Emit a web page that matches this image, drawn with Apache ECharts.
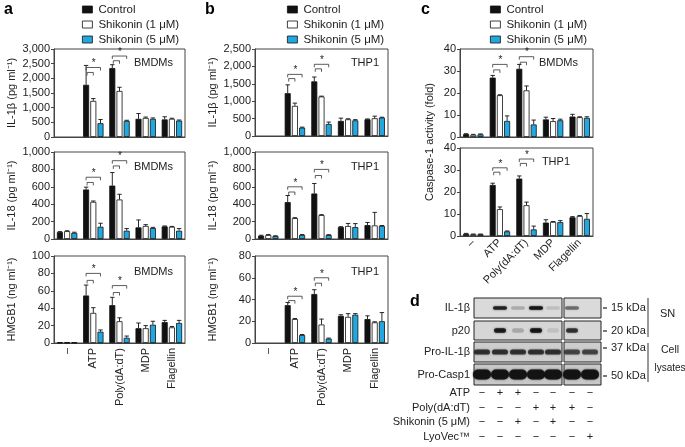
<!DOCTYPE html>
<html>
<head>
<meta charset="utf-8">
<script src="https://cdn.jsdelivr.net/npm/echarts@6.0.0/dist/echarts.min.js"></script>
<style>
  html, body { margin: 0; padding: 0; background: #fff; }
  #chart { width: 685px; height: 447px; }
</style>
</head>
<body>
<div id="chart"></div>
<script>
// ---- data ----
const categories = ['–', 'ATP', 'Poly(dA:dT)', 'MDP', 'Flagellin'];
const seriesNames = ['Control', 'Shikonin (1 μM)', 'Shikonin (5 μM)'];

// rows: Control, Shikonin 1 uM, Shikonin 5 uM
const aIL1bMean = [[null, 1780, 2350, 620, 600], [null, 1230, 1570, 650, 620], [null, 470, 550, 620, 560]];
const aIL1bErr = [[0, 660, 115, 180, 90], [0, 80, 125, 30, 20], [0, 125, 20, 30, 20]];
const aIL18Mean = [[80, 569, 614, 134, 145], [90, 427, 454, 150, 140], [70, 141, 95, 126, 95]];
const aIL18Err = [[5, 27, 150, 85, 5], [5, 10, 60, 15, 5], [8, 40, 25, 8, 25]];
const aHmgbMean = [[0.5, 54.6, 43.5, 17, 24], [0.5, 34.6, 25, 17, 18], [0.5, 13, 6, 21, 23]];
const aHmgbErr = [[0, 12, 9, 6, 2], [0, 6, 4, 3, 1], [0, 2, 2, 4, 3]];

const bIL1bMean = [[null, 1230, 1570, 433, 480], [null, 865, 1135, 480, 510], [null, 240, 346, 450, 530]];
const bIL1bErr = [[0, 240, 125, 80, 10], [0, 80, 10, 15, 60], [0, 15, 55, 20, 10]];
const bIL18Mean = [[38, 424, 523, 137, 160], [46, 240, 275, 149, 156], [34, 46, 45, 137, 150]];
const bIL18Err = [[5, 76, 115, 5, 30], [5, 5, 5, 30, 150], [3, 5, 5, 40, 5]];
const bHmgbMean = [[null, 34.8, 45, 25, 22], [null, 22, 17, 24, 19], [null, 7.3, 4, 26, 20]];
const bHmgbErr = [[0, 2.5, 4, 1, 3], [0, 0.5, 5, 3, 0.5], [0, 0.5, 0.5, 1, 8]];

const cBmdmMean = [[1.3, 27, 31, 8, 9.3], [1.0, 19, 21.2, 7.2, 9], [1.2, 7.3, 5.7, 7.6, 8.7]];
const cBmdmErr = [[0.2, 1, 2, 1, 1], [0.2, 0.2, 2, 1.2, 0.2], [0.2, 2.3, 2, 0.5, 0.5]];
const cThpMean = [[1.0, 23.2, 26.1, 6.1, 8.5], [0.8, 12.2, 14, 6.4, 9.1], [0.8, 2.1, 3, 6.3, 7.8]];
const cThpErr = [[0.2, 0.8, 1.2, 1.3, 0.3], [0.1, 1, 1.4, 0.2, 0.2], [0.1, 0.2, 1.5, 0.7, 2.4]];

// significance brackets: [category index, inner line, outer line]
const aIL1bSig = [[1, 2200, 2370], [2, 2600, 2760]];
const aIL18Sig = [[1, 650, 710], [2, 840, 900]];
const aHmgbSig = [[1, 72, 80], [2, 58, 66]];
const bIL1bSig = [[1, 1650, 1770], [2, 1930, 2060]];
const bIL18Sig = [[1, 540, 600], [2, 730, 800]];
const bHmgbSig = [[1, 39, 43], [2, 55, 60]];
const cBmdmSig = [[1, 30.5, 33], [2, 34, 36.5]];
const cThpSig = [[1, 29, 31], [2, 33, 35]];

// western blot (panel d)
const blotRows = ['IL-1β', 'p20', 'Pro-IL-1β', 'Pro-Casp1'];
const blotMarkers = ['15 kDa', '20 kDa', '37 kDa', '50 kDa'];
const bandLevels = [
  [0, 0.8, 0.2, 0.9, 0.12, 0.45, 0],
  [0, 0.85, 0.2, 0.9, 0.1, 0.7, 0],
  [0.7, 0.7, 0.7, 0.7, 0.7, 0.6, 0.6],
  [0.9, 0.9, 0.9, 0.9, 0.9, 0.9, 0.9]
];
const treatRows = ['ATP', 'Poly(dA:dT)', 'Shikonin (5 μM)', 'LyoVec™'];
const treatSigns = [
  ['−', '+', '+', '−', '−', '−', '−'],
  ['−', '−', '−', '+', '+', '+', '−'],
  ['−', '−', '+', '−', '+', '−', '−'],
  ['−', '−', '−', '−', '−', '−', '+']
];

// ---- styling ----
const FONT = 'Liberation Sans, Arial, sans-serif';
const BAR_W = 6, BAR_GAP = 1.2;
const colors = ['#111111', '#ffffff', '#22a7df'];
const TXT = '#222';

const grids = [], xAxes = [], yAxes = [], series = [];

function errRender(k) {
  return function (params, api) {
    const m = api.value(1);
    if (m == null || isNaN(m)) return;
    const base = api.coord([api.value(0), m]);
    const top = api.coord([api.value(0), m + api.value(2)]);
    const cx = base[0] + (k - 1) * (BAR_W + BAR_GAP);
    const st = { stroke: '#111', lineWidth: 0.9 };
    return {
      type: 'group', children: [
        { type: 'line', shape: { x1: cx, y1: base[1], x2: cx, y2: top[1] }, style: st },
        { type: 'line', shape: { x1: cx - 2.2, y1: top[1], x2: cx + 2.2, y2: top[1] }, style: st }
      ]
    };
  };
}

function sigRender(params, api) {
  const c = api.value(0);
  const p0 = api.coord([c, api.value(1)]);
  const p1 = api.coord([c, api.value(2)]);
  const step = BAR_W + BAR_GAP;
  const xL = p0[0] - step + 1, xM = p0[0], xR = p0[0] + step;
  const st = { stroke: '#333', lineWidth: 0.8, fill: null };
  return {
    type: 'group', children: [
      { type: 'polyline', shape: { points: [[xL, p0[1] + 3], [xL, p0[1]], [xM, p0[1]], [xM, p0[1] + 3]] }, style: st },
      { type: 'polyline', shape: { points: [[xL - 1, p1[1] + 3], [xL - 1, p1[1]], [xR, p1[1]], [xR, p1[1] + 3]] }, style: st },
      { type: 'text', x: (xL + xR) / 2, y: p1[1] + 1, style: { text: '*', fill: '#222', font: '10px ' + FONT, align: 'center', verticalAlign: 'bottom' } }
    ]
  };
}

function addPanel(box, yMax, yStep, yName, means, errs, sig, xLabel) {
  const i = grids.length;
  grids.push({ left: box[0], top: box[1], width: box[2], height: box[3], show: true, borderColor: '#444', borderWidth: 1, containLabel: false });
  xAxes.push({
    type: 'category', gridIndex: i, data: categories,
    axisLine: { lineStyle: { color: '#444' } },
    axisTick: { alignWithLabel: true, length: 3, lineStyle: { color: '#444' } },
    axisLabel: xLabel ? { show: true, interval: 0, rotate: xLabel, fontSize: 11, color: TXT, fontFamily: FONT, margin: 5 } : { show: false }
  });
  yAxes.push({
    type: 'value', gridIndex: i, min: 0, max: yMax, interval: yStep,
    name: yName, nameLocation: 'middle', nameGap: 37,
    nameTextStyle: { fontSize: 11, color: TXT, fontFamily: FONT },
    axisLine: { show: true, lineStyle: { color: '#444' } },
    axisTick: { show: true, length: 3, lineStyle: { color: '#444' } },
    splitLine: { show: false },
    axisLabel: { fontSize: 11, color: TXT, fontFamily: FONT, margin: 4, formatter: v => v.toLocaleString('en-US') }
  });
  for (let k = 0; k < 3; k++) {
    series.push({
      type: 'bar', name: seriesNames[k], xAxisIndex: i, yAxisIndex: i,
      data: means[k], barWidth: BAR_W, barGap: (BAR_GAP / BAR_W * 100) + '%',
      itemStyle: { color: colors[k], borderColor: '#111', borderWidth: 0.8 },
      animation: false, silent: true
    });
  }
  for (let k = 0; k < 3; k++) {
    series.push({
      type: 'custom', name: 'err' + k, xAxisIndex: i, yAxisIndex: i,
      data: means[k].map((m, j) => [j, m == null ? NaN : m, errs[k][j]]),
      encode: { x: 0, y: 1 }, renderItem: errRender(k), z: 5, animation: false, silent: true
    });
  }
  series.push({
    type: 'custom', name: 'sig', xAxisIndex: i, yAxisIndex: i,
    data: sig, encode: { x: 0, y: 1 }, renderItem: sigRender, z: 6, animation: false, silent: true
  });
}

// panel a (BMDMs)
addPanel([54, 49, 131, 88], 3000, 500, 'IL-1β (pg ml⁻¹)', aIL1bMean, aIL1bErr, aIL1bSig, 0);
addPanel([54, 152, 131, 87], 1000, 200, 'IL-18 (pg ml⁻¹)', aIL18Mean, aIL18Err, aIL18Sig, 0);
addPanel([54, 256, 131, 87], 100, 20, 'HMGB1 (ng ml⁻¹)', aHmgbMean, aHmgbErr, aHmgbSig, 90);
// panel b (THP1)
addPanel([255, 49, 133, 87], 2500, 500, 'IL-1β (pg ml⁻¹)', bIL1bMean, bIL1bErr, bIL1bSig, 0);
addPanel([255, 152, 133, 87], 1000, 200, 'IL-18 (pg ml⁻¹)', bIL18Mean, bIL18Err, bIL18Sig, 0);
addPanel([255, 256, 133, 87], 80, 20, 'HMGB1 (ng ml⁻¹)', bHmgbMean, bHmgbErr, bHmgbSig, 90);
// panel c (caspase-1)
addPanel([460, 49, 133, 88], 40, 10, '', cBmdmMean, cBmdmErr, cBmdmSig, 0);
addPanel([460, 148, 133, 88], 40, 10, '', cThpMean, cThpErr, cThpSig, 45);

const legendData = seriesNames.map((n, k) => ({ name: n, itemStyle: { color: colors[k], borderColor: '#111', borderWidth: 0.8 } }));
const legends = [77, 282, 485].map(x => ({
  left: x, top: -2, orient: 'vertical', icon: 'rect', itemWidth: 10, itemHeight: 7, itemGap: 2,
  data: legendData, selectedMode: false,
  textStyle: { fontSize: 11.5, color: TXT, fontFamily: FONT, lineHeight: 13, padding: [0, 0, 0, 1] }
}));

// ---- graphic overlay: panel letters, cell labels, blot ----
const g = [];
function txt(x, y, s, opt) {
  g.push(Object.assign({ type: 'text', x: x, y: y, style: Object.assign({ text: s, fill: TXT, font: '11px ' + FONT, align: 'left', verticalAlign: 'middle' }, opt || {}) }));
}
const bold = { font: 'bold 16px ' + FONT, fill: '#000' };
txt(4, 10, 'a', bold); txt(205, 10, 'b', bold); txt(421, 10, 'c', bold); txt(410, 302, 'd', bold);
const cellLbl = [[173, 63, 'BMDMs'], [173, 167, 'BMDMs'], [173, 272, 'BMDMs'],
  [379, 63, 'THP1'], [379, 167, 'THP1'], [379, 272, 'THP1'], [578, 63, 'BMDMs'], [570, 162, 'THP1']];
cellLbl.forEach(c => txt(c[0], c[1], c[2], { align: 'right', fontSize: 11 }));
g.push({ type: 'text', x: 430, y: 142, rotation: Math.PI / 2,
  style: { text: 'Caspase-1 activity (fold)', fill: TXT, font: '11px ' + FONT, align: 'center', verticalAlign: 'middle' } });

// blot
const laneX = [482, 500, 518, 536, 553, 572, 590];
const rowY = [[298, 20], [321, 19], [342, 20], [364, 21]];
const rowFill = ['#dadada', '#d6d6d6', '#cdcdcd', '#c8c8c8'];
const bandSize = [[7, 1.8], [6, 2.3], [8, 2.6], [9, 5]];
rowY.forEach((r, ri) => {
  [[474, 88], [564, 37]].forEach(b => {
    g.push({ type: 'rect', shape: { x: b[0], y: r[0], width: b[1], height: r[1] }, style: { fill: rowFill[ri], stroke: '#222', lineWidth: 1 } });
  });
  bandLevels[ri].forEach((lv, li) => {
    if (lv <= 0) return;
    const s = bandSize[ri];
    g.push({ type: 'rect', shape: { x: laneX[li] - s[0], y: r[0] + r[1] / 2 - s[1], width: 2 * s[0], height: 2 * s[1], r: s[1] },
      style: { fill: 'rgba(15,15,15,' + lv + ')', shadowBlur: 2, shadowColor: 'rgba(15,15,15,' + lv + ')' } });
  });
  txt(470, r[0] + r[1] / 2, blotRows[ri], { align: 'right' });
});
const markerY = [308, 331, 348, 376];
markerY.forEach((y, i) => {
  g.push({ type: 'line', shape: { x1: 603, y1: y, x2: 607, y2: y }, style: { stroke: '#222', lineWidth: 1.2 } });
  txt(611, y, blotMarkers[i]);
});
g.push({ type: 'line', shape: { x1: 648, y1: 298, x2: 648, y2: 337 }, style: { stroke: '#333', lineWidth: 1 } });
g.push({ type: 'line', shape: { x1: 648, y1: 343, x2: 648, y2: 382 }, style: { stroke: '#333', lineWidth: 1 } });
txt(660, 314, 'SN');
txt(670, 350, 'Cell', { align: 'center', font: '10.5px ' + FONT });
txt(670, 368, 'lysates', { align: 'center', font: '10px ' + FONT });
const treatY = [393, 408, 422, 437];
treatRows.forEach((t, i) => {
  txt(470, treatY[i], t, { align: 'right' });
  treatSigns[i].forEach((s, li) => txt(laneX[li], treatY[i], s, { align: 'center' }));
});

const chart = echarts.init(document.getElementById('chart'), null, { renderer: 'canvas' });
chart.setOption({
  animation: false,
  textStyle: { fontFamily: FONT },
  legend: legends,
  grid: grids, xAxis: xAxes, yAxis: yAxes, series: series,
  graphic: g
});
</script>
</body>
</html>
